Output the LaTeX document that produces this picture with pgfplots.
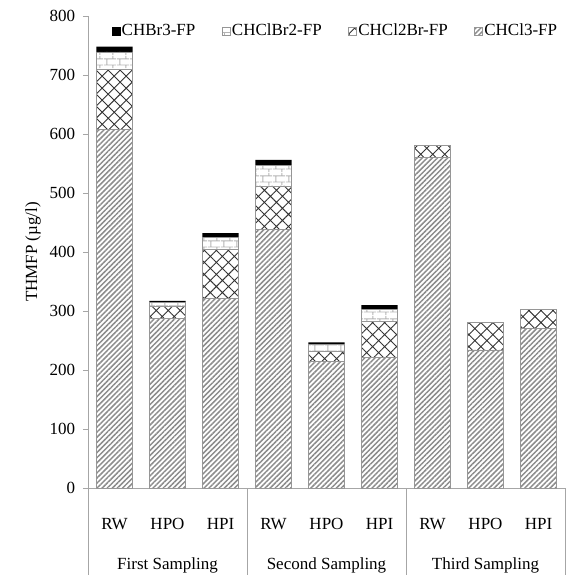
\documentclass[border=0pt]{standalone}
\usepackage{fontspec}
\setmainfont{Liberation Serif}
\usepackage{pgfplots}
\pgfplotsset{compat=1.18}
\usetikzlibrary{patterns,patterns.meta}

\definecolor{axgray}{HTML}{A6A6A6}
\definecolor{bargray}{HTML}{969696}
\definecolor{stripegray}{HTML}{8C8C8C}
\definecolor{brickgray}{HTML}{B4B4B4}

\pgfdeclarepatternformonly{mybricks}{\pgfpointorigin}{\pgfpoint{13pt}{13pt}}{\pgfpoint{13pt}{13pt}}{%
  \pgfsetlinewidth{1pt}%
  \pgfpathmoveto{\pgfpoint{0pt}{3.25pt}}\pgfpathlineto{\pgfpoint{13pt}{3.25pt}}%
  \pgfpathmoveto{\pgfpoint{0pt}{9.75pt}}\pgfpathlineto{\pgfpoint{13pt}{9.75pt}}%
  \pgfpathmoveto{\pgfpoint{3pt}{3.25pt}}\pgfpathlineto{\pgfpoint{3pt}{9.75pt}}%
  \pgfpathmoveto{\pgfpoint{9.5pt}{9.75pt}}\pgfpathlineto{\pgfpoint{9.5pt}{13pt}}%
  \pgfpathmoveto{\pgfpoint{9.5pt}{0pt}}\pgfpathlineto{\pgfpoint{9.5pt}{3.25pt}}%
  \pgfusepath{stroke}%
}

\begin{document}
\fontsize{17}{20}\selectfont
\begin{tikzpicture}
\path[use as bounding box] (-88pt,-87pt) rectangle (478pt,488pt);
\begin{axis}[
  at={(0pt,0pt)}, anchor=south west,
  scale only axis, width=477pt, height=472pt,
  xmin=-0.5, xmax=8.5, ymin=0, ymax=800,
  ybar stacked, bar width=0.68,
  clip=false,
  axis x line*=bottom, axis y line*=left,
  axis line style={axgray, line width=0.8pt},
  ytick={0,100,...,800},
  tick align=outside, major tick length=5pt,
  ytick style={axgray, line width=0.8pt},
  xtick={0,...,8},
  xticklabels={RW,HPO,HPI,RW,HPO,HPI,RW,HPO,HPI},
  xtick style={draw=none},
  xticklabel style={anchor=base, yshift=-36pt},
  yticklabel style={xshift=-2pt},
  /pgf/number format/assume math mode=true,
  ylabel={THMFP (µg/l)},
  every axis y label/.style={at={(axis description cs:-0.115,0.5)}, rotate=90, anchor=center},
  reverse legend,
  legend style={at={(0.518,0.968)}, anchor=center, draw=none, fill=none,
    legend columns=-1, nodes={inner sep=1.5pt},
    /tikz/every even column/.append style={column sep=25pt}},
  legend image code/.code={\draw[#1, line width=0.6pt] (0pt,-4pt) rectangle (8pt,4pt);},
]
\addplot[draw=bargray, line width=0.8pt, pattern={Lines[angle=45,distance=3.6pt,line width=1.5pt]}, pattern color=stripegray]
  coordinates {(0,608) (1,288) (2,322) (3,438) (4,215) (5,222) (6,560) (7,234) (8,271)};
\addplot[draw=bargray, line width=0.8pt, pattern={Hatch[angle=45,distance=8.5pt,line width=0.9pt]}, pattern color=black!80]
  coordinates {(0,102) (1,20) (2,83) (3,74) (4,17) (5,60) (6,20) (7,46) (8,31)};
\addplot[draw=bargray, line width=0.8pt, pattern=mybricks, pattern color=brickgray]
  coordinates {(0,29) (1,6) (2,20) (3,34) (4,12) (5,20) (6,0) (7,0) (8,0)};
\addplot[draw=none, fill=black]
  coordinates {(0,9) (1,3) (2,7) (3,10) (4,3) (5,8) (6,0) (7,0) (8,0)};
\legend{CHCl3-FP,CHCl2Br-FP,CHClBr2-FP,CHBr3-FP}
\draw[axgray, line width=0.8pt] (axis cs:-0.5,0) -- ++(0pt,-87pt);
\draw[axgray, line width=0.8pt] (axis cs:2.5,0) -- ++(0pt,-87pt);
\draw[axgray, line width=0.8pt] (axis cs:5.5,0) -- ++(0pt,-87pt);
\draw[axgray, line width=0.8pt] (axis cs:8.5,0) -- ++(0pt,-87pt);
\node[anchor=base, yshift=-81pt] at (axis cs:1,0) {First Sampling};
\node[anchor=base, yshift=-81pt] at (axis cs:4,0) {Second Sampling};
\node[anchor=base, yshift=-81pt] at (axis cs:7,0) {Third Sampling};
\end{axis}
\end{tikzpicture}
\end{document}
